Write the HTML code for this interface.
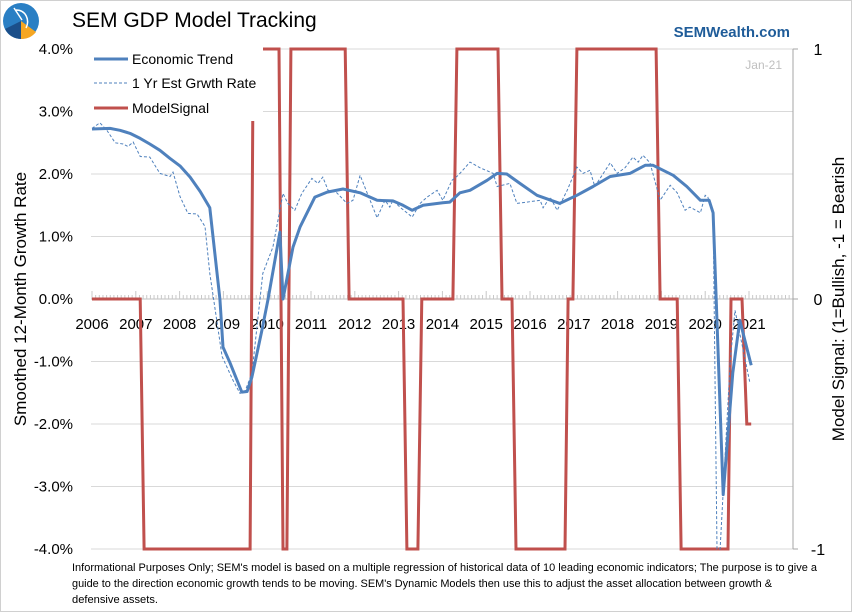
<!DOCTYPE html>
<html><head><meta charset="utf-8">
<style>
html,body{margin:0;padding:0;background:#fff;}
svg{display:block;font-family:"Liberation Sans",sans-serif;}
</style></head>
<body>
<svg id="chart" width="852" height="612" viewBox="0 0 852 612">
<rect x="0.5" y="0.5" width="851" height="611" fill="#fff" stroke="#d0d0d0"/>
<g>
<circle cx="21" cy="21" r="18" fill="#2a7fc4"/>
<path d="M21 21 L21 39 A18 18 0 0 1 5 29 Z" fill="#1b4f8a"/>
<path d="M21 21 L36 32 A18 18 0 0 1 21 39 Z" fill="#f5a623"/>
<path d="M14 8 L22 20 M16 10 C26 10 30 20 26 28" stroke="#fff" stroke-width="1.5" fill="none"/>
</g>
<text x="72" y="27" font-size="21" fill="#000">SEM GDP Model Tracking</text>
<text x="790" y="37" font-size="15" font-weight="bold" fill="#1f5c99" text-anchor="end">SEMWealth.com</text>
<text x="782" y="69" font-size="12" fill="#bfbfbf" text-anchor="end">Jan-21</text>
<g id="grid"></g>
<g id="xaxis"></g>
<g id="series"></g>
<g id="legend"></g>
<g id="axes"></g>
<text transform="translate(26,299) rotate(-90)" font-size="17" text-anchor="middle">Smoothed 12-Month Growth Rate</text>
<text transform="translate(844,299) rotate(-90)" font-size="17" text-anchor="middle">Model Signal: (1=Bullish, -1 = Bearish</text>
<g font-size="11" fill="#000">
<text x="72" y="571" textLength="745" lengthAdjust="spacingAndGlyphs">Informational Purposes Only; SEM's model is based on a multiple regression of historical data of 10 leading economic indicators; The purpose is to give a</text>
<text x="72" y="587" textLength="700" lengthAdjust="spacingAndGlyphs">guide to the direction economic growth tends to be moving. SEM's Dynamic Models then use this to adjust the asset allocation between growth &amp;</text>
<text x="72" y="603" textLength="86" lengthAdjust="spacingAndGlyphs">defensive assets.</text>
</g>
</svg>
<script>
const yTicks = [4, 3, 2, 1, 0, -1, -2, -3, -4];
const yTickLabels = ["4.0%","3.0%","2.0%","1.0%","0.0%","-1.0%","-2.0%","-3.0%","-4.0%"];
const y2Ticks = [1, 0, -1];
const y2TickLabels = ["1","0","-1"];
const years = [2006,2007,2008,2009,2010,2011,2012,2013,2014,2015,2016,2017,2018,2019,2020,2021];
const trendDates = [2006.0,2006.41,2006.64,2006.87,2007.10,2007.32,2007.55,2007.78,2008.01,2008.24,2008.47,2008.69,2008.92,2008.99,2009.15,2009.42,2009.54,2009.65,2009.88,2010.02,2010.29,2010.36,2010.59,2010.75,2011.09,2011.37,2011.73,2012.12,2012.51,2012.87,2013.10,2013.31,2013.56,2014.01,2014.17,2014.40,2014.63,2015.02,2015.25,2015.47,2015.77,2016.16,2016.68,2017.07,2017.44,2017.83,2018.28,2018.63,2018.81,2019.27,2019.58,2019.89,2020.09,2020.18,2020.41,2020.63,2020.79,2021.05];
const trendValues = [2.72,2.73,2.70,2.65,2.57,2.48,2.38,2.25,2.13,1.95,1.72,1.46,0.0,-0.77,-1.02,-1.49,-1.48,-1.25,-0.5,0.0,1.07,0.0,0.83,1.15,1.63,1.71,1.76,1.70,1.58,1.57,1.50,1.42,1.50,1.54,1.55,1.70,1.74,1.90,2.01,2.0,1.85,1.66,1.53,1.66,1.80,1.96,2.01,2.14,2.14,1.98,1.80,1.58,1.58,1.38,-3.13,-1.18,-0.34,-1.06];
const estDates = [2006.0,2006.18,2006.34,2006.53,2006.71,2006.82,2006.94,2007.10,2007.32,2007.55,2007.78,2007.85,2008.01,2008.19,2008.40,2008.58,2008.69,2008.97,2009.22,2009.38,2009.49,2009.65,2009.90,2010.13,2010.36,2010.47,2010.63,2010.79,2011.02,2011.16,2011.27,2011.39,2011.59,2011.82,2011.96,2012.12,2012.28,2012.51,2012.69,2012.80,2012.87,2013.03,2013.31,2013.49,2013.65,2013.88,2014.01,2014.22,2014.36,2014.63,2014.86,2015.16,2015.25,2015.54,2015.70,2015.93,2016.23,2016.30,2016.46,2016.62,2016.85,2017.07,2017.21,2017.37,2017.48,2017.83,2017.99,2018.17,2018.35,2018.47,2018.58,2018.74,2018.97,2019.20,2019.36,2019.54,2019.65,2019.89,2020.0,2020.06,2020.18,2020.27,2020.34,2020.57,2020.68,2021.02];
const estValues = [2.73,2.82,2.70,2.50,2.48,2.44,2.51,2.28,2.27,2.01,1.96,2.03,1.64,1.37,1.36,1.16,0.41,-0.92,-1.30,-1.51,-1.48,-1.19,0.41,0.83,1.69,1.53,1.42,1.69,1.93,1.85,1.95,1.74,1.70,1.53,1.58,1.98,1.70,1.30,1.58,1.47,1.58,1.47,1.31,1.53,1.63,1.74,1.58,1.90,1.98,2.19,2.10,2.01,1.80,1.85,1.53,1.55,1.58,1.46,1.63,1.42,1.74,2.11,2.01,2.06,1.80,2.18,2.01,2.10,2.27,2.19,2.30,2.18,1.58,1.82,1.70,1.42,1.47,1.38,1.66,1.63,1.38,-4.0,-4.0,-1.0,-0.18,-1.34];
const signalDates = [2006.0,2007.10,2007.19,2009.61,2009.68,2010.27,2010.36,2010.45,2010.54,2011.78,2011.87,2013.10,2013.19,2013.44,2013.53,2014.24,2014.33,2015.27,2015.36,2015.59,2015.68,2016.80,2016.87,2016.98,2017.07,2018.88,2018.97,2019.36,2019.45,2020.52,2020.59,2020.84,2020.95,2021.05];
const signalValues = [0,0,-1,-1,1,1,-1,-1,1,1,0,0,-1,-1,0,0,1,1,0,0,-1,-1,0,0,1,1,0,0,-1,-1,0,0,-0.5,-0.5];

const NS = "http://www.w3.org/2000/svg";
const PX0 = 92, YEARPX = 43.8, Y0 = 299, PCT = 62.5, PL = 91, PR = 793;
function xs(t){ return PX0 + (t - 2006) * YEARPX; }
function ys(v){ return Y0 - v * PCT; }
function y2s(v){ return Y0 - v * 250; }
function mk(tag, attrs, parent){ const e = document.createElementNS(NS, tag); for (const k in attrs) e.setAttribute(k, attrs[k]); parent.appendChild(e); return e; }

const grid = document.getElementById('grid');
yTicks.forEach((v, i) => {
  if (v !== 0) {
    const g = mk('line', {x1: PL, x2: PR, y1: ys(v), y2: ys(v), stroke: '#d9d9d9', 'stroke-width': 1}, grid);
    
    
  }
  const t = mk('text', {x: 73, y: ys(v) + 5, 'font-size': 15, 'text-anchor': 'end'}, grid);
  t.textContent = yTickLabels[i];
  
  
});

const xaxis = document.getElementById('xaxis');
const axl = mk('line', {x1: PL, x2: PR, y1: Y0, y2: Y0, stroke: '#bfbfbf', 'stroke-width': 1}, xaxis);


for (let m = 0; m <= 191; m++) {
  const x = xs(2006 + m / 12);
  if (x > PR - 2) break;
  const tk = mk('line', {x1: x, x2: x, y1: Y0 - (m % 12 === 0 ? 8 : 4), y2: Y0, stroke: '#c8c8c8', 'stroke-width': 1}, xaxis);
  
  
}
years.forEach(y => {
  const t = mk('text', {x: xs(y), y: 329, 'font-size': 15, 'text-anchor': 'middle'}, xaxis);
  t.textContent = y;
  
  
});

const series = document.getElementById('series');
function pts(d, v, f){ return d.map((t, i) => xs(t).toFixed(1) + ',' + f(v[i]).toFixed(1)).join(' '); }
const sig = mk('polyline', {points: pts(signalDates, signalValues, y2s), fill: 'none', stroke: '#c0504d', 'stroke-width': 3, 'stroke-linejoin': 'miter'}, series);


const est = mk('polyline', {points: pts(estDates, estValues, ys), fill: 'none', stroke: '#4f81bd', 'stroke-width': 1, 'stroke-dasharray': '3,2'}, series);


const tr = mk('polyline', {points: pts(trendDates, trendValues, ys), fill: 'none', stroke: '#4f81bd', 'stroke-width': 3, 'stroke-linejoin': 'round'}, series);



const axes = document.getElementById('axes');
const ra = mk('line', {x1: PR, x2: PR, y1: 49, y2: 549, stroke: '#a6a6a6', 'stroke-width': 1}, axes);


y2Ticks.forEach((v, i) => {
  const tk = mk('line', {x1: PR, x2: PR + 5, y1: y2s(v), y2: y2s(v), stroke: '#a6a6a6'}, axes);
  
  
  const t = mk('text', {x: 818, y: y2s(v) + 6, 'font-size': 16, 'text-anchor': 'middle'}, axes);
  t.textContent = y2TickLabels[i];
  
  
});

const legend = document.getElementById('legend');
const lb = mk('rect', {x: 80, y: 44, width: 183, height: 77, fill: '#fff'}, legend);


const legItems = [
  {name: 'Economic Trend', c: '#4f81bd', w: 3, d: '', y: 59, n: 'legend-entry-trend'},
  {name: '1 Yr Est Grwth Rate', c: '#4f81bd', w: 1, d: '3,2', y: 83, n: 'legend-entry-est'},
  {name: 'ModelSignal', c: '#c0504d', w: 3, d: '', y: 108, n: 'legend-entry-signal'}
];
legItems.forEach(it => {
  const g = mk('g', {}, legend);
  
  
  const l = mk('line', {x1: 94, x2: 128, y1: it.y, y2: it.y, stroke: it.c, 'stroke-width': it.w}, g);
  if (it.d) l.setAttribute('stroke-dasharray', it.d);
  const t = mk('text', {x: 132, y: it.y + 5, 'font-size': 14}, g);
  t.textContent = it.name;
});
</script>
</body></html>
